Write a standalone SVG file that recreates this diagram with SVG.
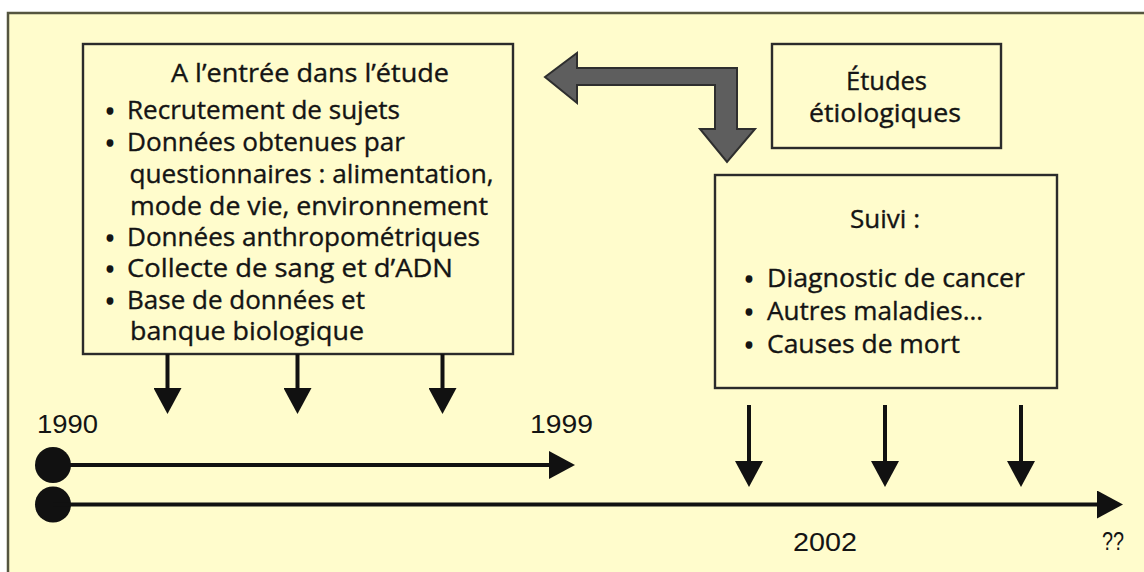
<svg xmlns="http://www.w3.org/2000/svg" width="1144" height="572" viewBox="0 0 1144 572">
<style>
  .bg{fill:#ffffff}
  .frame{fill:#fffccc;stroke:#55553f;stroke-width:2.5}
  .box{fill:#fffccc;stroke:#2b2b2b;stroke-width:2.4}
  .t{font-family:"Open Sans","Liberation Sans",sans-serif;font-size:25px;fill:#141414;stroke:#141414;stroke-width:0.35}
  .b{font-family:"Open Sans","Liberation Sans",sans-serif;font-size:25px;fill:#141414;stroke:#141414;stroke-width:1.6;text-anchor:middle}
  .yr{font-family:"Liberation Sans","DejaVu Sans",sans-serif;font-size:25px;fill:#141414}
  .ln{stroke:#111;stroke-width:4;fill:none}
  .big{fill:#5e5e5e;stroke:#2e2e2e;stroke-width:2;stroke-linejoin:miter}
  .dot{fill:#111}
</style>
<defs>
  <marker id="head" markerUnits="userSpaceOnUse" markerWidth="26" markerHeight="28" viewBox="0 0 26 28" refX="0" refY="14" orient="auto">
    <path d="M0,0 L26,14 L0,28 Z" fill="#111"/>
  </marker>
</defs>
<rect class="bg" x="0" y="0" width="1144" height="572"/>
<rect class="frame" x="8" y="13" width="1150" height="580"/>

<g id="node-entree">
  <rect class="box" x="83" y="44" width="430" height="310"/>
  <text class="t" x="171" y="82" textLength="278" lengthAdjust="spacingAndGlyphs">A l’entrée dans l’étude</text>
  <text class="b" x="110" y="120">•</text>
  <text class="t" x="127" y="119" textLength="273" lengthAdjust="spacingAndGlyphs">Recrutement de sujets</text>
  <text class="b" x="110" y="152">•</text>
  <text class="t" x="127" y="151" textLength="278" lengthAdjust="spacingAndGlyphs">Données obtenues par</text>
  <text class="t" x="129.5" y="183" textLength="364" lengthAdjust="spacingAndGlyphs">questionnaires : alimentation,</text>
  <text class="t" x="130" y="215" textLength="358" lengthAdjust="spacingAndGlyphs">mode de vie, environnement</text>
  <text class="b" x="110" y="247">•</text>
  <text class="t" x="127" y="246" textLength="353" lengthAdjust="spacingAndGlyphs">Données anthropométriques</text>
  <text class="b" x="110" y="278">•</text>
  <text class="t" x="127" y="277" textLength="326" lengthAdjust="spacingAndGlyphs">Collecte de sang et d’ADN</text>
  <text class="b" x="110" y="310">•</text>
  <text class="t" x="127" y="309" textLength="238" lengthAdjust="spacingAndGlyphs">Base de données et</text>
  <text class="t" x="130" y="340" textLength="234" lengthAdjust="spacingAndGlyphs">banque biologique</text>
</g>

<g id="node-etudes">
  <rect class="box" x="772" y="44" width="229" height="104"/>
  <text class="t" x="846" y="90" textLength="81" lengthAdjust="spacingAndGlyphs">Études</text>
  <text class="t" x="809" y="122" textLength="152" lengthAdjust="spacingAndGlyphs">étiologiques</text>
</g>

<g id="node-suivi">
  <rect class="box" x="715" y="175" width="342" height="213"/>
  <text class="t" x="850" y="228" textLength="70" lengthAdjust="spacingAndGlyphs">Suivi :</text>
  <text class="b" x="749" y="288">•</text>
  <text class="t" x="767" y="287" textLength="258" lengthAdjust="spacingAndGlyphs">Diagnostic de cancer</text>
  <text class="b" x="749" y="321">•</text>
  <text class="t" x="767" y="320" textLength="216" lengthAdjust="spacingAndGlyphs">Autres maladies…</text>
  <text class="b" x="749" y="354">•</text>
  <text class="t" x="767" y="353" textLength="193" lengthAdjust="spacingAndGlyphs">Causes de mort</text>
</g>

<g id="timeline-labels">
  <text class="yr" x="37" y="433" textLength="61" lengthAdjust="spacingAndGlyphs">1990</text>
  <text class="yr" x="530" y="433" textLength="63" lengthAdjust="spacingAndGlyphs">1999</text>
  <text class="yr" x="793" y="551" textLength="64" lengthAdjust="spacingAndGlyphs">2002</text>
  <text class="yr" x="1102" y="550" textLength="22" lengthAdjust="spacingAndGlyphs">??</text>
</g>

<g id="connectors">
  <path class="big" d="M545,77 L577,53 L577,68 L737,68 L737,129 L755,129 L727,162 L700,129 L715,129 L715,85 L577,85 L577,103 Z"/>
  <line class="ln" x1="167.5" y1="354" x2="167.5" y2="388" marker-end="url(#head)"/>
  <line class="ln" x1="297.5" y1="354" x2="297.5" y2="388" marker-end="url(#head)"/>
  <line class="ln" x1="442.5" y1="354" x2="442.5" y2="388" marker-end="url(#head)"/>
  <line class="ln" x1="749" y1="405" x2="749" y2="461" marker-end="url(#head)"/>
  <line class="ln" x1="885" y1="405" x2="885" y2="461" marker-end="url(#head)"/>
  <line class="ln" x1="1021" y1="405" x2="1021" y2="461" marker-end="url(#head)"/>
  <circle class="dot" cx="53" cy="465" r="18"/>
  <circle class="dot" cx="53" cy="504.5" r="18"/>
  <line class="ln" x1="53" y1="465" x2="549" y2="465" marker-end="url(#head)"/>
  <line class="ln" x1="53" y1="504.5" x2="1097" y2="504.5" marker-end="url(#head)"/>
</g>
</svg>
